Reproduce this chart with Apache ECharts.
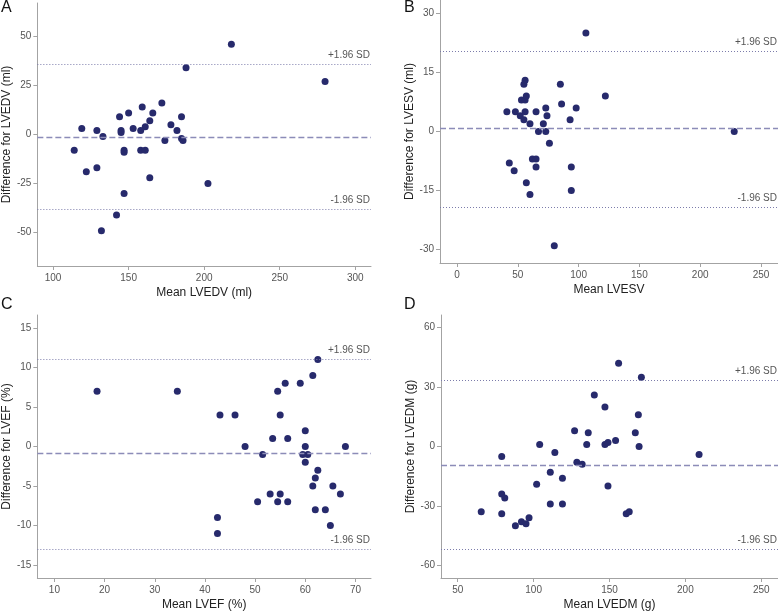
<!DOCTYPE html>
<html>
<head>
<meta charset="utf-8">
<script src="https://cdn.jsdelivr.net/npm/echarts@6/dist/echarts.min.js"></script>
<style>
html,body{margin:0;padding:0;background:#fff;}
#chart{width:778px;height:612px;}
</style>
</head>
<body>
<div id="chart"></div>
<script>
// ---- Panel A: LVEDV ----
var lvedvMean = [218,188,280,172,159,150,166,144,185,164,119,153,161,178,129,145,145,158,182,133,185,186,174,114,147,147,158,161,129,122,164,202.5,147,142,132];
var lvedvDiff = [46,34,27,16,14,11,11,9,9,7,3,3,4,5,2,2,1,2,2,-1,-2,-3,-3,-8,-8,-9,-8,-8,-17,-19,-22,-25,-30,-41,-49];
var lvedvLines = [-1.3, 35.8, -38.3]; // mean, +1.96 SD, -1.96 SD
var lvedvXTicks = [100,150,200,250,300];
var lvedvYTicks = [-50,-25,0,25,50];

// ---- Panel B: LVESV ----
var lvesvMean = [106,85,122,56,55,53,56,57,86,98,73,41,48,56,65,52,74,55,93,60,71,67,73,228,76,62,65,43,65,94,47,57,94,60,80];
var lvesvDiff = [25,12,9,13,12,8,8,9,7,6,6,5,5,5,5,4,4,3,3,2,2,0,0,0,-3,-7,-7,-8,-9,-9,-10,-13,-15,-16,-29];
var lvesvLines = [0.8, 20.3, -19.3];
var lvesvXTicks = [0,50,100,150,200,250];
var lvesvYTicks = [-30,-15,0,15,30];

// ---- Panel C: LVEF ----
var lvefMean = [18.5,34.5,43,46,48,51.5,50.5,54.5,56,59,61.5,62.5,55,53.5,56.5,60,60,68,59.5,60.5,60,62.5,62,61.5,65.5,67,53,55,54.5,56.5,62,64,65,42.5,42.5];
var lvefDiff = [7,7,4,4,0,-1,-7,7,8,8,9,11,4,1,1,2,0,0,-1,-1,-2,-3,-4,-5,-5,-6,-6,-6,-7,-7,-8,-8,-10,-9,-11];
var lvefLines = [-0.9, 11.0, -13.0];
var lvefXTicks = [10,20,30,40,50,60,70];
var lvefYTicks = [-15,-10,-5,0,5,10,15];

// ---- Panel D: LVEDM ----
var lvedmMean = [156,171,140,147,169,127,136,167,154,149,147,135,104,169.5,114,209,79,128.5,132,111,119,102,149,79,81,111,119,65.5,79,161,163,88,92,95,97];
var lvedmDiff = [42,35,26,20,16,8,7,7,3,2,1,1,1,0,-3,-4,-5,-8,-9,-13,-16,-19,-20,-24,-26,-29,-29,-33,-34,-34,-33,-40,-38,-39,-36];
var lvedmLines = [-9.4, 33.4, -51.9];
var lvedmXTicks = [50,100,150,200,250];
var lvedmYTicks = [-60,-30,0,30,60];

var panelLetters = ['A','B','C','D'];
var xTitles = ['Mean LVEDV (ml)','Mean LVESV','Mean LVEF (%)','Mean LVEDM (g)'];
var yTitles = ['Difference for LVEDV (ml)','Difference for LVESV (ml)','Difference for LVEF (%)','Difference for LVEDM (g)'];

var FONT = '"Liberation Sans", Arial, sans-serif';
var axisColor = '#a3a3a3';
var labelColor = '#555';
var dotColor = '#272a6c';

function zip(a, b){ var r=[]; for (var i=0;i<a.length;i++) r.push([a[i], b[i]]); return r; }

var panels = [
  {grid:{left:36, top:3, width:335, height:263}, x:[89.6,310.4], y:[-67,67], xt:lvedvXTicks, yt:lvedvYTicks, mx:lvedvMean, dy:lvedvDiff, lines:lvedvLines},
  {grid:{left:440, top:0, width:338, height:263}, x:[-14,264], y:[-33.4,33.4], xt:lvesvXTicks, yt:lvesvYTicks, mx:lvesvMean, dy:lvesvDiff, lines:lvesvLines},
  {grid:{left:36, top:315, width:335, height:263}, x:[6.6,73.1], y:[-16.65,16.65], xt:lvefXTicks, yt:lvefYTicks, mx:lvefMean, dy:lvefDiff, lines:lvefLines},
  {grid:{left:441, top:315, width:337, height:263}, x:[39,261], y:[-66.4,66.4], xt:lvedmXTicks, yt:lvedmYTicks, mx:lvedmMean, dy:lvedmDiff, lines:lvedmLines}
];

var grids=[], xAxes=[], yAxes=[], series=[], graphics=[];
var letterPos = [[1,0],[404,0],[1,297],[404,297]];

panels.forEach(function(p, i){
  grids.push(p.grid);
  xAxes.push({
    type:'value', gridIndex:i, min:p.x[0], max:p.x[1],
    name:xTitles[i], nameLocation:'middle', nameGap:21,
    nameTextStyle:{color:'#222', fontSize:12, fontFamily:FONT},
    axisLine:{show:true, onZero:false, lineStyle:{color:axisColor, width:1}},
    axisTick:{show:true, length:4, customValues:p.xt, lineStyle:{color:axisColor}},
    axisLabel:{show:true, customValues:p.xt, color:labelColor, fontSize:10, fontFamily:FONT, margin:7},
    splitLine:{show:false}
  });
  yAxes.push({
    type:'value', gridIndex:i, min:p.y[0], max:p.y[1],
    name:yTitles[i], nameLocation:'middle', nameGap:23,
    nameTextStyle:{color:'#222', fontSize:12, fontFamily:FONT},
    axisLine:{show:true, onZero:false, lineStyle:{color:axisColor, width:1}},
    axisTick:{show:true, length:4, customValues:p.yt, lineStyle:{color:axisColor}},
    axisLabel:{show:true, customValues:p.yt, color:labelColor, fontSize:10, fontFamily:FONT, margin:6},
    splitLine:{show:false}
  });
  series.push({
    type:'scatter', xAxisIndex:i, yAxisIndex:i,
    data:zip(p.mx, p.dy), symbolSize:7,
    itemStyle:{color:dotColor, opacity:1},
    markLine:{
      silent:true, symbol:'none', animation:false,
      data:[
        {yAxis:p.lines[0], lineStyle:{color:'#8c8cb8', type:[6,3], width:1.3}, label:{show:false}},
        {yAxis:p.lines[1], lineStyle:{color:'#7c7cab', type:[1,2], width:1}, label:{show:true, position:'insideEndTop', formatter:'+1.96 SD', color:labelColor, fontSize:10, fontFamily:FONT, distance:[1,4]}},
        {yAxis:p.lines[2], lineStyle:{color:'#7c7cab', type:[1,2], width:1}, label:{show:true, position:'insideEndTop', formatter:'-1.96 SD', color:labelColor, fontSize:10, fontFamily:FONT, distance:[1,4]}}
      ]
    }
  });
  graphics.push({type:'text', left:letterPos[i][0], top:letterPos[i][1], style:{text:panelLetters[i], font:'16px '+FONT, fill:'#111'}});
});

var chart = echarts.init(document.getElementById('chart'), null, {renderer:'canvas'});
chart.setOption({
  animation:false,
  backgroundColor:'#fff',
  grid:grids, xAxis:xAxes, yAxis:yAxes, series:series, graphic:graphics
});
</script>
</body>
</html>
